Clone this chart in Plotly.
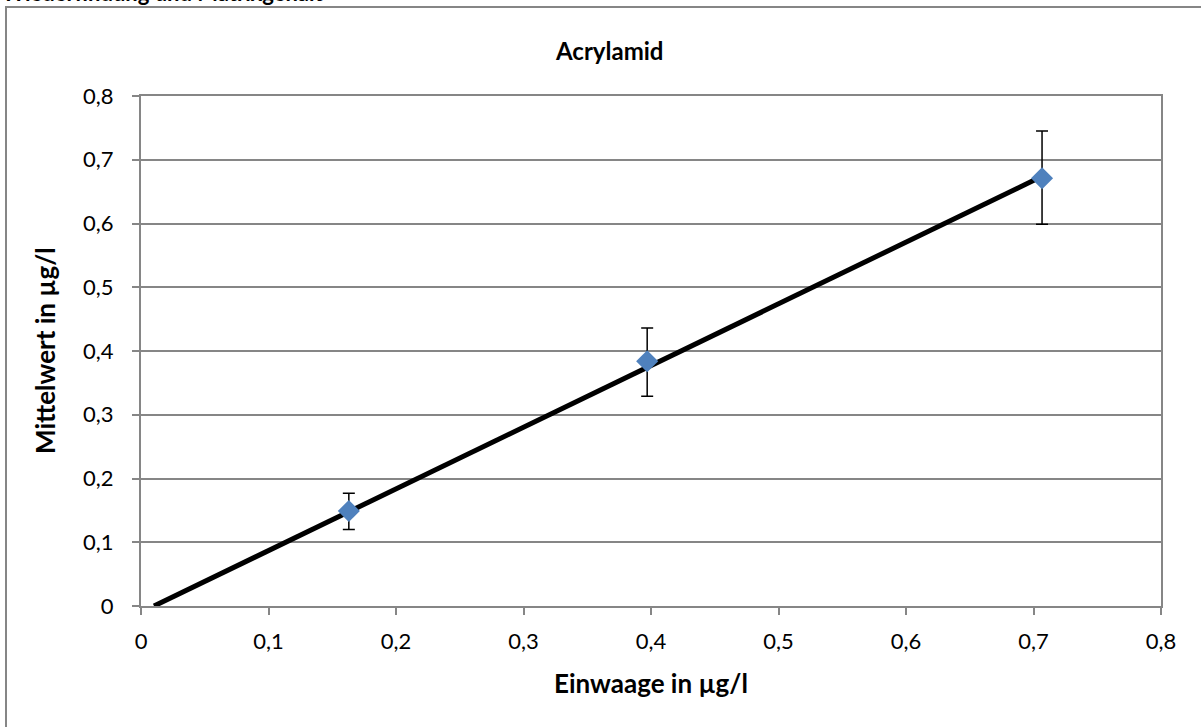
import plotly.graph_objects as go

# data
einwaage = [0.163, 0.397, 0.7067]
mittelwert = [0.149, 0.384, 0.671]
err_plus = [0.028, 0.052, 0.074]
err_minus = [0.029, 0.055, 0.072]
line_x = [0.0102, 0.7067]
line_y = [0.0, 0.674]
tick_vals = [0, 0.1, 0.2, 0.3, 0.4, 0.5, 0.6, 0.7, 0.8]
tick_text = ["0", "0,1", "0,2", "0,3", "0,4", "0,5", "0,6", "0,7", "0,8"]

FONT = "Lato, 'Open Sans', sans-serif"
GRAY = "#868686"

fig = go.Figure()
fig.add_trace(go.Scatter(x=line_x, y=line_y, mode="lines",
                         line=dict(color="black", width=5), showlegend=False,
                         hoverinfo="skip"))
fig.add_trace(go.Scatter(
    x=einwaage, y=mittelwert, mode="markers",
    marker=dict(symbol="diamond", size=17, color="#4F81BD"),
    error_y=dict(type="data", symmetric=False, array=err_plus, arrayminus=err_minus,
                 color="black", thickness=1.5, width=6),
    showlegend=False))

L, R, T, B = 141, 1161, 96, 606  # target pixel positions in the screenshot
W, H = 1201, 727
pw, ph = R - L, B - T

def px(x):
    return (x - L) / pw

def py(y):
    return (B - y) / ph

fig.update_layout(
    width=W, height=H,
    margin=dict(l=L, r=W - R, t=T, b=H - B, pad=0),
    paper_bgcolor="white", plot_bgcolor="white",
    font=dict(family=FONT, color="black", size=22),
    xaxis=dict(range=[0, 0.8], tickvals=tick_vals, ticktext=tick_text,
               showgrid=False, zeroline=False, showline=True, linecolor=GRAY,
               linewidth=2, mirror=True, ticks="outside", ticklen=7, tickcolor=GRAY,
               tickwidth=2, tickfont=dict(size=22, family=FONT), ticklabelstandoff=8),
    yaxis=dict(range=[0, 0.8], tickvals=tick_vals, ticktext=tick_text,
               showgrid=True, gridcolor=GRAY, gridwidth=1.5, zeroline=False,
               showline=True, linecolor=GRAY, linewidth=2, mirror=True,
               ticks="outside", ticklen=7, tickcolor=GRAY, tickwidth=2,
               tickfont=dict(size=22, family=FONT), ticklabelstandoff=14),
)

# chart title
fig.add_annotation(text="<b>Acrylamid</b>", xref="paper", yref="paper",
                   x=px(609), y=py(50), xanchor="center", yanchor="middle",
                   showarrow=False, font=dict(size=24, family=FONT))
# axis titles
fig.add_annotation(text="<b>Einwaage in µg/l</b>", xref="paper", yref="paper",
                   x=px(651), y=py(683), xanchor="center", yanchor="middle",
                   showarrow=False, font=dict(size=26, family=FONT))
fig.add_annotation(text="<b>Mittelwert in µg/l</b>", xref="paper", yref="paper",
                   x=px(45), y=py(351), xanchor="center", yanchor="middle",
                   textangle=-90, showarrow=False, font=dict(size=26, family=FONT))

# outer chart border
fig.add_shape(type="rect", xref="paper", yref="paper",
              x0=px(6), x1=px(1215), y0=py(745), y1=py(7),
              line=dict(color=GRAY, width=2), fillcolor="rgba(0,0,0,0)", layer="below")

# cut-off heading above chart
fig.add_annotation(text="<b>Wiederfindung und Matrixgehalt</b>", xref="paper", yref="paper",
                   x=px(0), y=py(8), xanchor="left", yanchor="bottom", showarrow=False,
                   font=dict(size=22, family=FONT, color="black"))

fig.write_html("out.html", post_script="document.body.style.margin='0px';",
               config={"displayModeBar": False})
